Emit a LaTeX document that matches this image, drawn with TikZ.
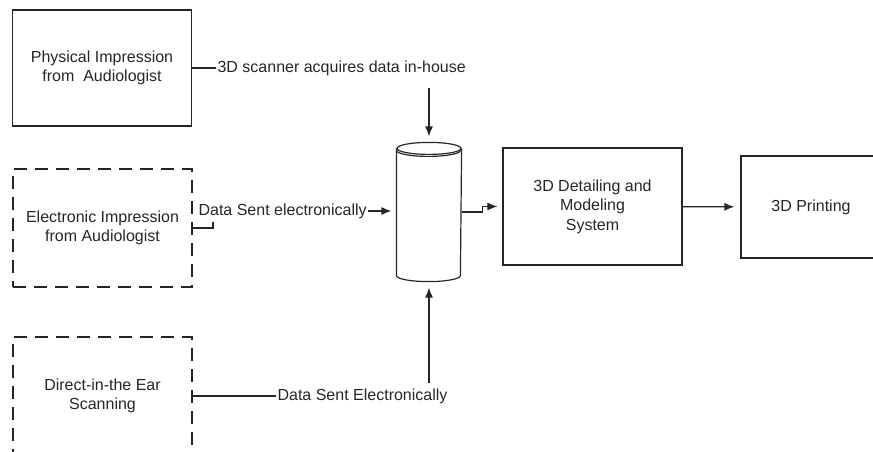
\documentclass[tikz,border=0pt]{standalone}
\usepackage{fontspec}
\setmainfont{Liberation Sans}
\usetikzlibrary{arrows.meta}
\tikzset{
  box/.style={draw, rectangle, align=center, inner sep=0pt, minimum width=179pt, minimum height=117pt},
  dashbox/.style={box, dash pattern=on 13pt off 8pt},
  lbl/.style={inner sep=1pt, anchor=west},
  arr/.style={-{Latex[length=10pt,width=8pt]}}
}
\begin{document}
\begin{tikzpicture}[x=1pt,y=-1pt,line width=1.2pt,draw=black!85,text=black!85,font=\fontsize{16}{19.5}\selectfont]
\clip (0,0) rectangle (873,452);
% sources
\node[box, minimum height=116pt] (phys) at (102,68) {Physical Impression\\from \ Audiologist};
\node[dashbox, minimum height=118pt] (elec) at (102.5,228) {Electronic Impression\\from Audiologist};
\node[dashbox, minimum height=118pt] (direct) at (102.5,396) {Direct-in-the Ear\\Scanning};
% data store
\node[minimum width=64pt, minimum height=138pt, inner sep=0pt] (db) at (429,212) {};
\draw ([yshift=-6pt]db.north west) -- ([yshift=6pt]db.south west)
  arc[start angle=180, end angle=360, x radius=32pt, y radius=6pt] -- ([yshift=-6pt]db.north east);
\draw ([yshift=-6pt]db.north) ellipse [x radius=32pt, y radius=6pt];
\draw ([yshift=-8pt]db.north west) arc[start angle=180, end angle=360, x radius=32pt, y radius=6pt];
% processing
\node[box] (model) at (592.5,206.5) {3D Detailing and\\Modeling\\System};
\node[box, minimum width=140pt, minimum height=102pt] (print) at (811,207) {3D Printing};
% labels
\node[lbl] (scan) at (216,68) {3D scanner acquires data in-house};
\node[lbl] (sent) at (197,211) {Data Sent electronically};
\node[lbl] (sentb) at (276,396) {Data Sent Electronically};
\coordinate (scanend) at (429,88);
\coordinate (hook) at (213,222);
\coordinate (rise) at (429,383);
% connectors
\draw (phys) -- (scan);
\draw[arr, shorten >=6pt] (scanend) -- (db.north);
\draw (elec.east) -| (hook);
\draw[arr, shorten >=5pt] (sent.east) -- (sent.east -| db.west);
\draw (direct.east) -- (sentb.west);
\draw[arr, shorten >=6pt] (rise) -- (db.south);
\draw[arr, shorten >=5pt] (db.east) -- ++(21,0) |- (model.west);
\draw[arr, shorten >=6pt] (model) -- (print);
\end{tikzpicture}
\end{document}
